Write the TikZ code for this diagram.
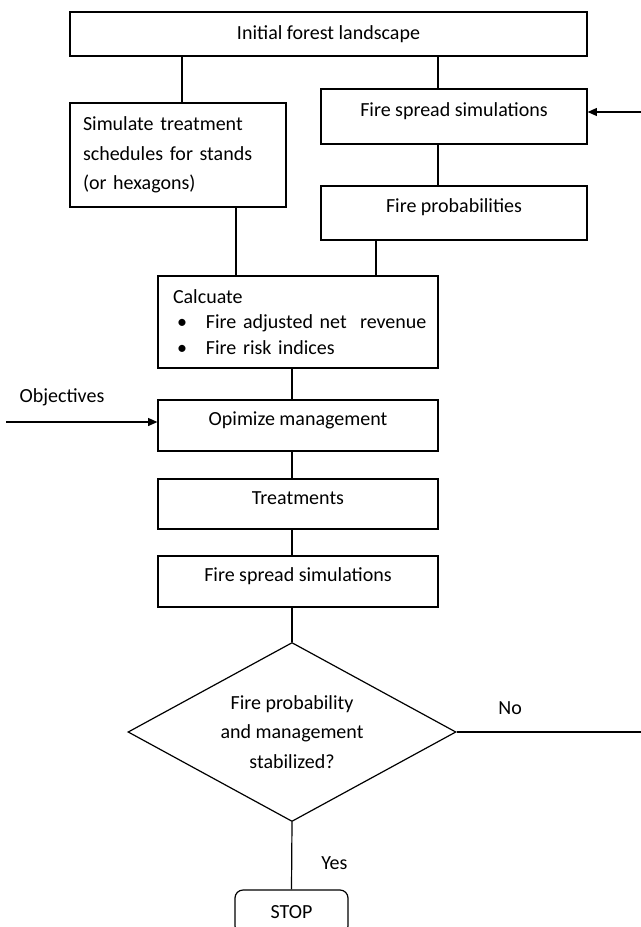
\documentclass[tikz,border=0pt]{standalone}
\usepackage{fontspec}
\setmainfont{Carlito}
\usetikzlibrary{shapes.geometric, arrows.meta}

\begin{document}
\begin{tikzpicture}[x=0.75pt, y=-0.75pt]

        \tikzstyle{boxnode} = [draw, rectangle, line width=0.9pt, inner sep=0, align=center, font=\fontsize{15}{22}\selectfont];
        \tikzstyle{raised} = [text height=11pt, text depth=11pt];
        \tikzstyle{decisionnode} = [draw, diamond, aspect=1.83, line width=0.9pt, inner sep=0, align=center, minimum width=246pt, minimum height=134.25pt, font=\fontsize{15}{22}\selectfont];
        \tikzstyle{line} = [line width=0.9pt];
        \tikzstyle{arrow} = [line, -{Triangle[length=7pt,width=6pt]}];
        \tikzstyle{labelnode} = [inner sep=0, font=\fontsize{15}{18}\selectfont];

        \useasboundingbox (0,0) rectangle (641,927);
        \clip (0,0) rectangle (641,927);

        \node[boxnode, minimum width=387.75pt, minimum height=33pt] (Init) at (328.5,34) {Initial forest landscape};

        \node[boxnode, minimum width=162pt, minimum height=78pt, text width=142.5pt, align=left] (Sim) at (178,155) {Simulate treatment\\schedules for stands\\(or hexagons)};
        \node[boxnode, raised, minimum width=199.5pt, minimum height=41.25pt] (Spread) at (454,116.5) {Fire spread simulations};
        \node[boxnode, raised, minimum width=199.5pt, minimum height=40.5pt] (Prob) at (454,213) {Fire probabilities};

        \node[boxnode, minimum width=210pt, minimum height=69pt, text width=187.5pt, align=left, font=\fontsize{15}{19}\selectfont] (Calc) at (298,322) {\mbox{Calcuate}\\
            \mbox{\hspace*{3pt}\makebox[21.75pt][l]{\textbullet}Fire adjusted net\ \ revenue}\\
            \mbox{\hspace*{3pt}\makebox[21.75pt][l]{\textbullet}Fire risk indices}};
        \node[boxnode, raised, minimum width=210pt, minimum height=38.25pt] (Opt) at (298,425.5) {Opimize management};
        \node[boxnode, raised, minimum width=210pt, minimum height=37.5pt] (Treat) at (298,504) {Treatments};
        \node[boxnode, raised, minimum width=210pt, minimum height=38.25pt] (Spread2) at (298,581.5) {Fire spread simulations};

        \node[decisionnode] (Decide) at (292,732) {Fire probability\\and management\\stabilized?};
        \node[boxnode, rounded corners=6pt, minimum width=84.75pt, minimum height=33pt] (Stop) at (291.5,912) {STOP};

        % columns of the connectors
        \coordinate (SimTop) at ([xshift=3pt]Sim.north);
        \coordinate (SpreadTop) at ([xshift=-12pt]Spread.north);
        \coordinate (ProbOut) at ([xshift=-58.5pt]Prob.south);
        \coordinate (SimOut) at ([xshift=43.5pt]Sim.south);
        \coordinate (FireIn) at (641,112);
        \coordinate (NoEnd) at (641,0);
        \coordinate (ObjIn) at (6,422);

        \draw[line] (Init.south -| SimTop) -- (SimTop);
        \draw[line] (Init.south -| SpreadTop) -- (SpreadTop);
        \draw[line] ([xshift=-12pt]Spread.south) -- ([xshift=-12pt]Prob.north);
        \draw[line] (ProbOut) -- (ProbOut |- Calc.north);
        \draw[line] (SimOut) -- (SimOut |- Calc.north);

        \draw[line] (Calc.south -| Decide) -- (Opt.north -| Decide);
        \draw[line] (Opt.south -| Decide) -- (Treat.north -| Decide);
        \draw[line] (Treat.south -| Decide) -- (Spread2.north -| Decide);
        \draw[line] (Spread2.south -| Decide) -- (Decide.north);

        \draw[line] (Decide.south) -- node[labelnode, pos=0.7, anchor=base west, xshift=21.75pt] (YesLbl) {Yes} (Stop.north);
        \draw[line] (Decide.east) -- node[labelnode, pos=0.29, anchor=base, yshift=13pt] (NoLbl) {No} (Decide.east -| NoEnd);

        \draw[arrow] (FireIn) -- (FireIn -| Spread.east);
        \draw[arrow] (ObjIn) -- node[labelnode, pos=0.37, anchor=base, yshift=15pt] (ObjLbl) {Objectives} (ObjIn -| Opt.west);

\end{tikzpicture}
\end{document}
